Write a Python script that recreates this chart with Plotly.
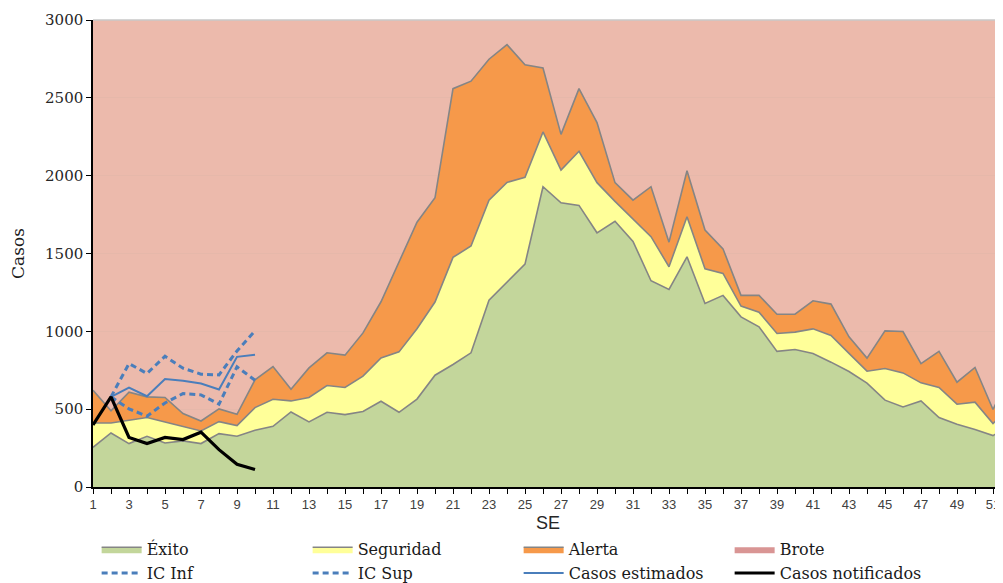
import plotly.graph_objects as go

weeks = list(range(1, 53))
x_tick_vals = list(range(1, 53, 2))
x_tick_labels = [str(w) for w in x_tick_vals]
y_tick_vals = [0, 500, 1000, 1500, 2000, 2500, 3000]
y_tick_labels = ["0", "500", "1000", "1500", "2000", "2500", "3000"]

# Upper limit of each zone (cumulative boundaries of the endemic channel)
exito = [255, 347, 279, 326, 283, 296, 279, 343, 326, 365,
         390, 482, 418, 480, 465, 485, 551, 480, 565, 718,
         787, 862, 1200, 1316, 1432, 1929, 1826, 1809, 1633, 1707,
         1578, 1325, 1269, 1479, 1179, 1231, 1093, 1029, 871, 883,
         858, 802, 742, 667, 558, 514, 553, 446, 403, 369,
         330, 405]
seguridad = [411, 411, 429, 446, 418, 390, 360, 420, 395, 510,
             564, 553, 575, 652, 639, 712, 829, 868, 1017, 1188,
             1475, 1548, 1843, 1957, 1989, 2281, 2036, 2157, 1955, 1835,
             1719, 1608, 1415, 1736, 1402, 1372, 1162, 1123, 986, 995,
             1016, 973, 858, 744, 761, 733, 669, 639, 532, 545,
             408, 520]
alerta = [622, 489, 609, 579, 575, 472, 424, 502, 467, 688,
          774, 628, 765, 862, 847, 990, 1190, 1440, 1701, 1858,
          2559, 2607, 2748, 2842, 2713, 2692, 2265, 2559, 2341, 1955,
          1843, 1929, 1573, 2032, 1651, 1530, 1231, 1231, 1110, 1110,
          1196, 1175, 965, 828, 1003, 999, 793, 871, 673, 768,
          498, 738]

notif_weeks = list(range(1, 11))
casos_notificados = [399, 579, 318, 279, 318, 305, 352, 240, 146, 112]

est_weeks = list(range(2, 11))
casos_estimados = [579, 639, 583, 694, 682, 665, 626, 836, 849]
ic_inf = [579, 502, 455, 540, 600, 592, 532, 772, 686]
ic_sup = [579, 793, 729, 840, 763, 725, 720, 874, 1003]

C_EXITO = "#C3D69B"
C_SEG = "#FFFF99"
C_ALERTA = "#F6994A"
C_BROTE_AREA = "#ECBAAC"
C_BROTE_LEG = "#D99594"
C_EDGE = "#858585"
C_BLUE = "#4A7EBB"

fig = go.Figure()
fig.add_trace(go.Scatter(x=weeks, y=exito, name="Éxito", mode="lines",
                         line=dict(color=C_EDGE, width=1.6), fill="tozeroy",
                         fillcolor=C_EXITO))
fig.add_trace(go.Scatter(x=weeks, y=seguridad, name="Seguridad", mode="lines",
                         line=dict(color=C_EDGE, width=1.6), fill="tonexty",
                         fillcolor=C_SEG))
fig.add_trace(go.Scatter(x=weeks, y=alerta, name="Alerta", mode="lines",
                         line=dict(color=C_EDGE, width=1.6), fill="tonexty",
                         fillcolor=C_ALERTA))
fig.add_trace(go.Scatter(x=[None], y=[None], name="Brote", mode="lines",
                         line=dict(color=C_BROTE_LEG, width=0), fill="tonexty",
                         fillcolor=C_BROTE_LEG))
fig.add_trace(go.Scatter(x=est_weeks, y=ic_inf, name="IC Inf", mode="lines",
                         line=dict(color=C_BLUE, width=3, dash="6px,4px")))
fig.add_trace(go.Scatter(x=est_weeks, y=ic_sup, name="IC Sup", mode="lines",
                         line=dict(color=C_BLUE, width=3, dash="6px,4px")))
fig.add_trace(go.Scatter(x=est_weeks, y=casos_estimados, name="Casos estimados",
                         mode="lines", line=dict(color=C_BLUE, width=2)))
fig.add_trace(go.Scatter(x=notif_weeks, y=casos_notificados, name="Casos notificados",
                         mode="lines", line=dict(color="#000000", width=3.2)))

# The page body adds an 8px offset; the figure is sized to fill the window exactly.
fig.update_layout(
    width=995, height=575,
    margin=dict(l=85, r=0, t=12, b=96, autoexpand=False),
    paper_bgcolor="white",
    plot_bgcolor=C_BROTE_AREA,
    showlegend=True,
    legend=dict(orientation="h", x=0.004, y=-0.097, xanchor="left", yanchor="top",
                entrywidth=156, entrywidthmode="pixels", traceorder="normal",
                font=dict(family="DejaVu Serif", size=16, color="#1a1a1a"),
                bgcolor="rgba(0,0,0,0)", tracegroupgap=0, itemwidth=40),
    xaxis=dict(range=[1, 1 + 910 / 18], tickmode="array", tickvals=x_tick_vals,
               ticktext=x_tick_labels, ticks="outside", ticklen=5, tickwidth=1,
               tickcolor="#000000", showline=True, linecolor="#000000", linewidth=1.5,
               showgrid=False, zeroline=False,
               minor=dict(tickmode="linear", tick0=0, dtick=1, ticks="outside",
                          ticklen=5, tickcolor="#000000", showgrid=False),
               tickfont=dict(family="Liberation Sans", size=13, color="#404040"),
               title=dict(text="SE", font=dict(family="Liberation Sans", size=18,
                                               color="#262626"), standoff=5)),
    yaxis=dict(range=[0, 3000], tickmode="array", tickvals=y_tick_vals,
               ticktext=y_tick_labels, ticks="outside", ticklen=5, tickwidth=1,
               tickcolor="#000000", showline=True, linecolor="#000000", linewidth=1.5,
               showgrid=True, gridcolor="#E6B8AA", gridwidth=1, zeroline=False,
               tickfont=dict(family="DejaVu Serif", size=15, color="#262626"),
               title=dict(text="Casos", font=dict(family="DejaVu Serif", size=17,
                                                  color="#1a1a1a"), standoff=18)),
    shapes=[dict(type="line", xref="paper", yref="paper", x0=0, x1=1, y0=1, y1=1,
                 line=dict(color="#C8C8C8", width=1.5))],
)

fig.write_html("out.html")
